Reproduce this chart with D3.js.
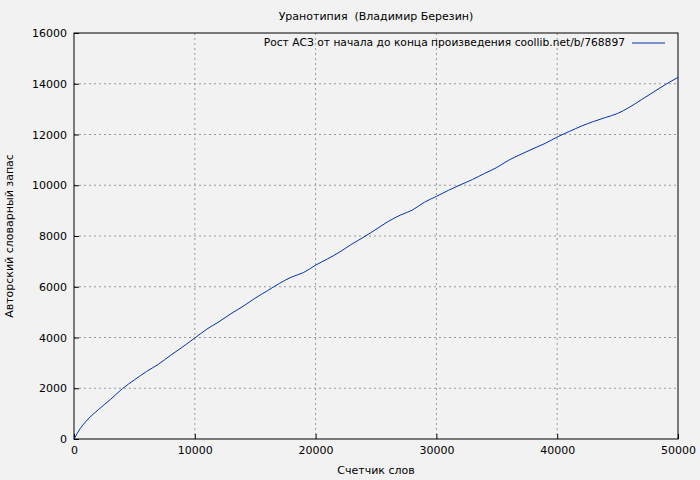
<!DOCTYPE html>
<html><head><meta charset="utf-8">
<script src="https://cdn.jsdelivr.net/npm/d3@7"></script>
<style>body{margin:0;background:#f2f2f2}text{font-family:"DejaVu Sans",sans-serif;white-space:pre}</style>
</head><body>
<svg id="c" width="700" height="480"></svg>
<script>
const words = [0, 500, 1000, 2000, 3000, 4000, 5000, 6000, 7000, 8000, 9000, 10000, 11000, 12000, 13000, 14000, 15000, 16000, 17000, 18000, 19000, 20000, 21000, 22000, 23000, 24000, 25000, 26000, 27000, 28000, 29000, 30000, 31000, 32000, 33000, 34000, 35000, 36000, 37000, 38000, 39000, 40000, 41000, 42000, 43000, 44000, 45000, 46000, 47000, 48000, 49000, 50000];
const vocab = [0, 400, 700, 1150, 1550, 1980, 2330, 2660, 2950, 3300, 3630, 3980, 4330, 4620, 4940, 5230, 5550, 5840, 6130, 6380, 6560, 6850, 7100, 7370, 7680, 7960, 8260, 8570, 8820, 9020, 9330, 9560, 9800, 10020, 10230, 10470, 10700, 10990, 11220, 11440, 11650, 11900, 12120, 12330, 12510, 12670, 12830, 13080, 13380, 13680, 13980, 14250];
const xTicks = [0, 10000, 20000, 30000, 40000, 50000];
const yTicks = [0, 2000, 4000, 6000, 8000, 10000, 12000, 14000, 16000];

const svg = d3.select('#c');
const m = {l: 74, r: 678, t: 33, b: 439};
const x = d3.scaleLinear().domain([0, 50000]).range([m.l, m.r]);
const y = d3.scaleLinear().domain([0, 16000]).range([m.b, m.t]);

svg.append('g').selectAll('line').data(xTicks.slice(1, -1)).enter().append('line')
  .attr('x1', d => x(d)).attr('x2', d => x(d)).attr('y1', m.t).attr('y2', m.b)
  .attr('stroke', '#999').attr('stroke-dasharray', '2,3');
svg.append('g').selectAll('line').data(yTicks.slice(1, -1)).enter().append('line')
  .attr('y1', d => y(d)).attr('y2', d => y(d)).attr('x1', m.l).attr('x2', m.r)
  .attr('stroke', '#999').attr('stroke-dasharray', '2,3');

svg.append('rect').attr('x', m.l).attr('y', m.t).attr('width', m.r - m.l).attr('height', m.b - m.t)
  .attr('fill', 'none').attr('stroke', '#000');

const xa = svg.append('g').attr('transform', `translate(0,${m.b})`)
  .call(d3.axisBottom(x).tickValues(xTicks).tickFormat(d3.format('d')).tickSize(-5).tickPadding(7));
const ya = svg.append('g').attr('transform', `translate(${m.l},0)`)
  .call(d3.axisLeft(y).tickValues(yTicks).tickFormat(d3.format('d')).tickSize(-5).tickPadding(7));
[xa, ya].forEach(a => {
  a.select('.domain').remove();
  a.selectAll('text').attr('font-size', 11).attr('fill', '#000');
});

svg.append('path').datum(words.map((w, i) => [w, vocab[i]]))
  .attr('fill', 'none').attr('stroke', '#0033aa').attr('stroke-width', 1)
  .attr('d', d3.line().x(d => x(d[0])).y(d => y(d[1])).curve(d3.curveMonotoneX));

svg.append('text').attr('x', 376).attr('y', 20).attr('text-anchor', 'middle').attr('font-size', 11)
  .text('Уранотипия  (Владимир Березин)');
svg.append('text').attr('x', 376).attr('y', 474).attr('text-anchor', 'middle').attr('font-size', 11)
  .text('Счетчик слов');
svg.append('text').attr('transform', 'translate(13,236) rotate(-90)').attr('text-anchor', 'middle').attr('font-size', 11)
  .text('Авторский словарный запас');

svg.append('text').attr('x', 625).attr('y', 46).attr('text-anchor', 'end').attr('font-size', 10.7)
  .text('Рост АСЗ от начала до конца произведения coollib.net/b/768897');
svg.append('line').attr('x1', 632).attr('x2', 665).attr('y1', 43).attr('y2', 43)
  .attr('stroke', '#0033aa');
</script>
</body></html>
